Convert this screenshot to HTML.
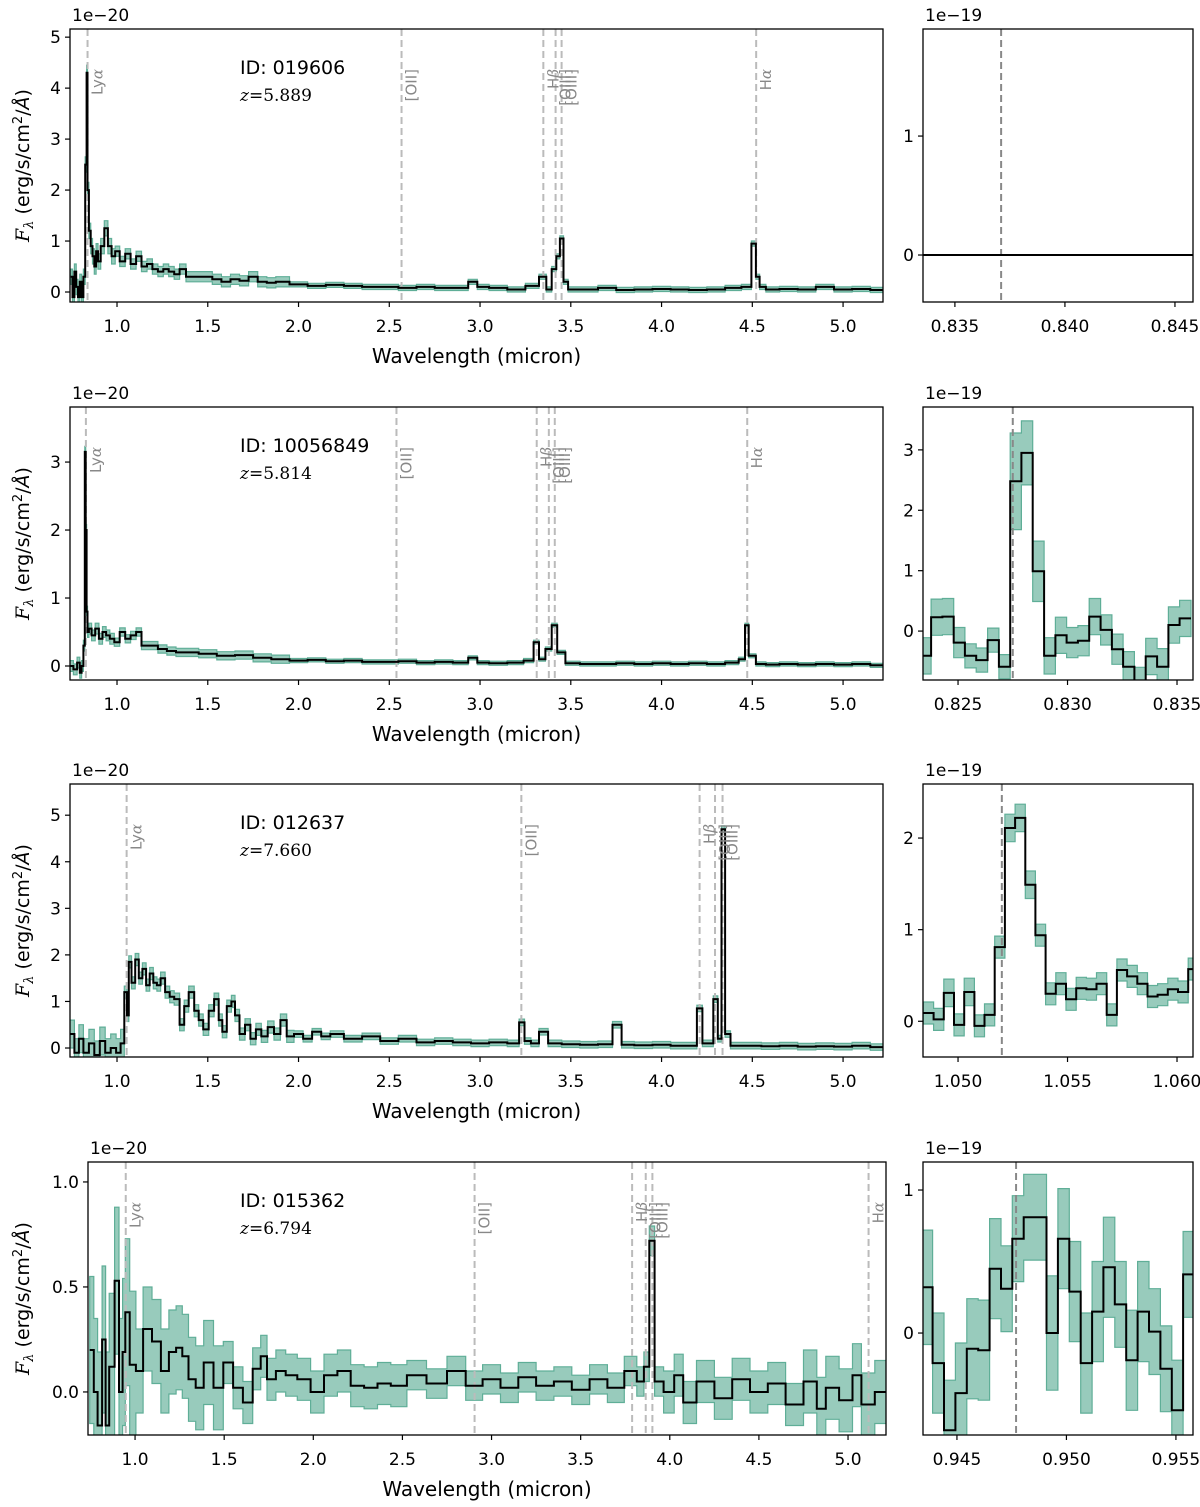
<!DOCTYPE html>
<html><head><meta charset="utf-8"><style>
body{margin:0;background:#fff;}
svg{display:block;font-family:"DejaVu Sans","Liberation Sans",sans-serif;}
</style></head><body>
<svg id="fig" width="1200" height="1507" viewBox="0 0 1200 1507" xmlns="http://www.w3.org/2000/svg"></svg>
<script>
// ---------- data (flux in units of 1e-20 for main, 1e-19 for zoom panels) ----------
const s1_wl=[0.75,0.76,0.77,0.78,0.79,0.80,0.81,0.82,0.83,0.835,0.84,0.85,0.86,0.87,0.88,0.89,0.90,0.92,0.94,0.96,0.98,1.00,1.03,1.06,1.09,1.12,1.15,1.18,1.21,1.24,1.27,1.30,1.33,1.36,1.40,1.45,1.50,1.55,1.60,1.65,1.70,1.75,1.80,1.85,1.90,2.0,2.1,2.2,2.3,2.4,2.5,2.6,2.7,2.8,2.9,2.97,3.0,3.1,3.2,3.3,3.35,3.38,3.41,3.43,3.45,3.47,3.5,3.6,3.7,3.8,3.9,4.0,4.1,4.2,4.3,4.4,4.48,4.51,4.53,4.55,4.6,4.7,4.8,4.9,5.0,5.1,5.2];
const s1_flux=[0.3,-0.1,0.4,0.1,-0.1,0.2,-0.1,0.3,2.5,4.3,2.0,1.2,0.9,0.7,0.5,0.8,0.6,0.9,1.25,0.9,0.7,0.8,0.6,0.75,0.55,0.7,0.5,0.55,0.45,0.4,0.45,0.4,0.35,0.45,0.3,0.3,0.3,0.25,0.2,0.25,0.22,0.3,0.2,0.18,0.2,0.15,0.12,0.14,0.12,0.1,0.1,0.08,0.1,0.08,0.08,0.2,0.1,0.08,0.05,0.12,0.3,0.05,0.45,0.7,1.05,0.2,0.05,0.05,0.08,0.04,0.05,0.06,0.05,0.04,0.05,0.08,0.1,0.95,0.3,0.1,0.05,0.06,0.05,0.1,0.05,0.06,0.04];
const s1_errEdges=[0.7,1.0,2.0];
const s1_errVals=[0.15,0.1,0.05];

const s2_wl=[0.75,0.77,0.79,0.80,0.81,0.82,0.825,0.83,0.835,0.84,0.85,0.87,0.89,0.91,0.93,0.95,0.97,1.00,1.03,1.06,1.09,1.12,1.15,1.20,1.25,1.30,1.35,1.40,1.50,1.60,1.70,1.80,1.90,2.0,2.1,2.2,2.3,2.4,2.5,2.6,2.7,2.8,2.9,2.97,3.0,3.1,3.2,3.28,3.31,3.34,3.38,3.41,3.44,3.5,3.6,3.7,3.8,3.9,4.0,4.1,4.2,4.3,4.4,4.45,4.47,4.49,4.55,4.6,4.7,4.8,4.9,5.0,5.1,5.2];
const s2_flux=[0.0,-0.05,0.05,-0.1,0.0,0.3,3.15,2.0,0.8,0.5,0.55,0.45,0.55,0.4,0.5,0.45,0.4,0.35,0.5,0.4,0.45,0.5,0.3,0.3,0.25,0.22,0.2,0.2,0.18,0.15,0.16,0.12,0.1,0.08,0.09,0.07,0.08,0.06,0.06,0.07,0.05,0.06,0.05,0.12,0.05,0.04,0.05,0.08,0.35,0.1,0.25,0.6,0.2,0.04,0.03,0.03,0.04,0.03,0.04,0.03,0.04,0.03,0.05,0.1,0.6,0.15,0.03,0.02,0.03,0.02,0.03,0.02,0.03,0.01];
const s2_errEdges=[0.7,1.0,2.0];
const s2_errVals=[0.08,0.06,0.03];

const s3_wl=[0.75,0.78,0.80,0.83,0.86,0.89,0.92,0.95,0.98,1.01,1.03,1.05,1.06,1.07,1.09,1.11,1.13,1.15,1.17,1.19,1.21,1.23,1.25,1.28,1.30,1.33,1.36,1.38,1.41,1.44,1.46,1.49,1.52,1.55,1.57,1.59,1.62,1.64,1.66,1.69,1.72,1.75,1.78,1.81,1.85,1.88,1.92,1.95,2.0,2.05,2.1,2.15,2.2,2.3,2.4,2.5,2.6,2.7,2.8,2.9,3.0,3.1,3.2,3.23,3.26,3.3,3.35,3.4,3.5,3.6,3.7,3.76,3.8,3.9,4.0,4.1,4.18,4.21,4.24,4.27,4.30,4.32,4.34,4.36,4.4,4.5,4.6,4.7,4.8,4.9,5.0,5.1,5.2];
const s3_flux=[0.3,-0.1,0.2,-0.1,0.1,-0.15,0.15,-0.1,0.0,-0.1,0.1,1.2,0.7,1.85,1.4,1.9,1.5,1.7,1.35,1.6,1.4,1.35,1.5,1.2,1.1,1.05,0.5,0.9,1.2,0.8,0.6,0.4,0.8,1.05,0.6,0.35,0.9,1.0,0.7,0.3,0.5,0.2,0.4,0.25,0.45,0.3,0.6,0.25,0.3,0.2,0.35,0.25,0.3,0.2,0.25,0.15,0.2,0.12,0.15,0.12,0.1,0.12,0.1,0.55,0.15,0.1,0.35,0.1,0.08,0.07,0.08,0.5,0.07,0.06,0.07,0.05,0.05,0.85,0.1,0.1,1.05,0.2,4.7,0.3,0.05,0.05,0.04,0.05,0.03,0.04,0.03,0.05,0.02];
const s3_errEdges=[0.7,1.05,2.0];
const s3_errVals=[0.3,0.13,0.07];

const s4_wl=[0.757,0.78,0.80,0.83,0.84,0.87,0.90,0.92,0.94,0.95,0.99,1.02,1.07,1.12,1.17,1.21,1.25,1.28,1.32,1.36,1.41,1.47,1.52,1.58,1.63,1.69,1.72,1.76,1.82,1.87,1.95,2.02,2.10,2.17,2.25,2.32,2.40,2.47,2.58,2.69,2.81,2.9,3.0,3.1,3.2,3.3,3.4,3.5,3.6,3.7,3.79,3.84,3.87,3.90,3.93,4.0,4.05,4.1,4.2,4.3,4.4,4.5,4.6,4.7,4.8,4.85,4.9,5.0,5.05,5.1,5.2];
const s4_flux=[0.2,0.0,-0.16,0.25,-0.16,0.12,0.53,0.0,0.19,0.38,0.13,0.1,0.3,0.24,0.1,0.19,0.21,0.17,0.06,0.02,0.14,0.02,0.14,0.02,-0.05,0.11,0.17,0.06,0.1,0.08,0.06,0.0,0.08,0.1,0.03,0.02,0.04,0.03,0.08,0.04,0.1,0.03,0.06,0.02,0.07,0.03,0.05,0.01,0.06,0.02,0.1,0.05,0.12,0.72,0.05,0.0,0.08,-0.05,0.05,-0.03,0.06,0.0,0.04,-0.06,0.05,-0.08,0.02,-0.04,0.08,-0.06,0.0];
const s4_errEdges=[0.7,1.0,1.5,2.5,4.0,4.8];
const s4_errVals=[0.35,0.2,0.1,0.07,0.1,0.15];

const z1_wl=[0.8335,0.8460];
const z1_flux=[0,0];
const z1_err=[0,0];

const z2_wl=[0.82351,0.82403,0.82454,0.82506,0.82557,0.82609,0.82661,0.82712,0.82764,0.82815,0.82867,0.82919,0.82970,0.83022,0.83073,0.83125,0.83177,0.83228,0.83280,0.83331,0.83383,0.83435,0.83486,0.83538];
const z2_flux=[-0.41,0.23,0.24,-0.19,-0.41,-0.48,-0.15,-0.59,2.48,2.95,0.99,-0.41,-0.07,-0.19,-0.16,0.24,0.02,-0.3,-0.59,-0.9,-0.42,-0.59,0.1,0.21];
const z2_err=[0.3,0.3,0.3,0.25,0.2,0.2,0.2,0.2,0.8,0.53,0.5,0.3,0.3,0.25,0.25,0.3,0.25,0.25,0.25,0.3,0.3,0.3,0.3,0.3];

const z3_wl=[1.04865,1.04912,1.04958,1.05005,1.05051,1.05098,1.05144,1.05191,1.05237,1.05284,1.05330,1.05377,1.05423,1.05470,1.05516,1.05563,1.05609,1.05656,1.05702,1.05749,1.05795,1.05842,1.05888,1.05935,1.05981,1.06028,1.06074];
const z3_flux=[0.09,0.02,0.31,-0.04,0.32,-0.05,0.07,0.81,2.11,2.22,1.49,0.94,0.30,0.41,0.24,0.36,0.35,0.41,0.07,0.56,0.49,0.41,0.27,0.29,0.35,0.32,0.57];
const z3_err=[0.12,0.12,0.15,0.12,0.15,0.12,0.12,0.12,0.15,0.15,0.15,0.12,0.12,0.12,0.12,0.12,0.12,0.12,0.12,0.12,0.12,0.12,0.12,0.12,0.12,0.12,0.12];

const z4_wl=[0.94363,0.94415,0.94467,0.94519,0.94571,0.94623,0.94675,0.94727,0.94779,0.94831,0.94883,0.94935,0.94987,0.95039,0.95091,0.95143,0.95195,0.95247,0.95299,0.95351,0.95403,0.95455,0.95507,0.95559,0.95611];
const z4_flux=[0.32,-0.21,-0.68,-0.42,-0.11,-0.12,0.45,0.31,0.66,0.81,0.81,0.0,0.66,0.29,-0.21,0.15,0.46,0.2,-0.19,0.15,0.01,-0.25,-0.54,0.41,0.2];
const z4_err=[0.4,0.35,0.35,0.35,0.35,0.35,0.35,0.3,0.3,0.3,0.3,0.4,0.35,0.35,0.35,0.35,0.35,0.3,0.35,0.35,0.3,0.3,0.35,0.3,0.3];

const redshifts=[5.889,5.814,7.660,6.794];
const objIds=["019606","10056849","012637","015362"];
const zoomLyaWl=[0.8371,0.8275,1.0520,0.9477];
const restLines=[0.1216,0.3727,0.4861,0.4959,0.5007,0.6563];
const lineNames=["Ly|α","[OII]","H|β","[OIII]","[OIII]","H|α"];
const mainXTicks=[1.0,1.5,2.0,2.5,3.0,3.5,4.0,4.5,5.0];

// ---------- drawing ----------
const NS="http://www.w3.org/2000/svg";
const svg=document.getElementById('fig');
let clipId=0;
function el(tag,attrs,parent){const e=document.createElementNS(NS,tag);for(const k in attrs)e.setAttribute(k,attrs[k]);(parent||svg).appendChild(e);return e;}
function errAt(edges,vals,w){let v=vals[0];for(let i=0;i<edges.length;i++){if(w>=edges[i])v=vals[i];}return v;}
function stepEdges(wl){const e=[];for(let i=0;i<wl.length;i++){const l=i==0?wl[0]-(wl[1]-wl[0])/2:(wl[i-1]+wl[i])/2;const r=i==wl.length-1?wl[i]+(wl[i]-wl[i-1])/2:(wl[i]+wl[i+1])/2;e.push([l,r]);}return e;}
function stepPath(sx,sy,wl,vals){const ed=stepEdges(wl);let d='';for(let i=0;i<wl.length;i++){d+=(i==0?'M':'L')+sx(ed[i][0]).toFixed(1)+','+sy(vals[i]).toFixed(1)+'L'+sx(ed[i][1]).toFixed(1)+','+sy(vals[i]).toFixed(1);}return d;}
function fmt(v,dec){return v.toFixed(dec).replace('-','−');}

function panel(p){
  const g=el('g',{});
  
  
  const sx=v=>p.L+(v-p.x0)/(p.x1-p.x0)*(p.R-p.L);
  const sy=v=>p.B-(v-p.y0)/(p.y1-p.y0)*(p.B-p.T);
  const cid='c'+(clipId++);
  const cp=el('clipPath',{id:cid},g);el('rect',{x:p.L,y:p.T,width:p.R-p.L,height:p.B-p.T},cp);
  const cg=el('g',{'clip-path':'url(#'+cid+')'},g);
  const lo=p.flux.map((f,i)=>f-p.err[i]);const hi=p.flux.map((f,i)=>f+p.err[i]);
  const up=stepPath(sx,sy,p.wl,hi);
  const ed=stepEdges(p.wl);let dn='';
  for(let i=p.wl.length-1;i>=0;i--){dn+='L'+sx(ed[i][1]).toFixed(1)+','+sy(lo[i]).toFixed(1)+'L'+sx(ed[i][0]).toFixed(1)+','+sy(lo[i]).toFixed(1);}
  const band=el('path',{d:up+dn+'Z',fill:'rgba(67,160,133,0.55)',stroke:'#5fae97','stroke-width':1.2},cg);
  
  
  (p.lines||[]).forEach((ln,i)=>{
    if(ln.w<p.x0||ln.w>p.x1)return;
    const x=sx(ln.w);
    const dl=el('line',{x1:x,x2:x,y1:p.T,y2:p.B,stroke:p.dashColor,'stroke-width':2,'stroke-dasharray':'7,4'},cg);
    
    
    if(ln.label){const t=el('text',{x:0,y:0,transform:'translate('+(x+15)+','+(p.T+40)+') rotate(-90)','text-anchor':'end','font-size':15,fill:'#888'},g);
      const parts=ln.label.split('|');
      t.textContent=parts[0];
      if(parts[1]){const ts=el('tspan',{'font-style':'italic','font-family':'DejaVu Serif, serif'},t);ts.textContent=parts[1];}
      
      }
  });
  const sp=el('path',{d:stepPath(sx,sy,p.wl,p.flux),fill:'none',stroke:'#000','stroke-width':2,'stroke-linejoin':'miter'},cg);
  
  
  const fr=el('rect',{x:p.L,y:p.T,width:p.R-p.L,height:p.B-p.T,fill:'none',stroke:'#000','stroke-width':1.3},g);
  
  
  p.xticks.forEach(v=>{const x=sx(v);el('line',{x1:x,x2:x,y1:p.B,y2:p.B+5,stroke:'#000','stroke-width':1.2},g);
    const t=el('text',{x:x,y:p.B+30,'text-anchor':'middle','font-size':17},g);t.textContent=fmt(v,p.xdec);
    
    });
  p.yticks.forEach(v=>{const y=sy(v);el('line',{x1:p.L-5,x2:p.L,y1:y,y2:y,stroke:'#000','stroke-width':1.2},g);
    const t=el('text',{x:p.L-9,y:y+6,'text-anchor':'end','font-size':17},g);t.textContent=fmt(v,p.ydec);
    
    });
  const off=el('text',{x:p.L+2,y:p.T-8,'font-size':17},g);off.textContent=p.offset;
  
  
  return {sx,sy,g};
}

const rows=[
 {T:29,B:302,L:70,R:883,x0:0.741,x1:5.22,y0:-0.196,y1:5.16,yt:[0,1,2,3,4,5],yd:0,wl:s1_wl,f:s1_flux,ee:s1_errEdges,ev:s1_errVals,
  zx0:0.83355,zx1:0.84582,zy0:-0.395,zy1:1.9,zyt:[0,1],zxt:[0.835,0.840,0.845],zwl:z1_wl,zf:z1_flux,ze:z1_err},
 {T:407,B:680,L:70,R:883,x0:0.741,x1:5.22,y0:-0.206,y1:3.81,yt:[0,1,2,3],yd:0,wl:s2_wl,f:s2_flux,ee:s2_errEdges,ev:s2_errVals,
  zx0:0.82340,zx1:0.83573,zy0:-0.81,zy1:3.71,zyt:[0,1,2,3],zxt:[0.825,0.830,0.835],zwl:z2_wl,zf:z2_flux,ze:z2_err},
 {T:784,B:1057,L:70,R:883,x0:0.741,x1:5.22,y0:-0.193,y1:5.67,yt:[0,1,2,3,4,5],yd:0,wl:s3_wl,f:s3_flux,ee:s3_errEdges,ev:s3_errVals,
  zx0:1.04840,zx1:1.06073,zy0:-0.39,zy1:2.59,zyt:[0,1,2],zxt:[1.050,1.055,1.060],zwl:z3_wl,zf:z3_flux,ze:z3_err},
 {T:1162,B:1435,L:88,R:886,x0:0.736,x1:5.213,y0:-0.205,y1:1.095,yt:[0,0.5,1.0],yd:1,wl:s4_wl,f:s4_flux,ee:s4_errEdges,ev:s4_errVals,
  zx0:0.94345,zx1:0.95578,zy0:-0.713,zy1:1.196,zyt:[0,1],zxt:[0.945,0.950,0.955],zwl:z4_wl,zf:z4_flux,ze:z4_err}
];

rows.forEach((r,k)=>{
  const z=redshifts[k];
  const lines=restLines.map((w,i)=>({w:w*(1+z),label:lineNames[i]}));
  const err=r.wl.map(w=>errAt(r.ee,r.ev,w));
  panel({name:'spectrum-panel-'+(k+1),L:r.L,R:r.R,T:r.T,B:r.B,x0:r.x0,x1:r.x1,y0:r.y0,y1:r.y1,wl:r.wl,flux:r.f,err:err,
    lines:lines,dashColor:'#bbbbbb',xticks:mainXTicks,xdec:1,yticks:r.yt,ydec:r.yd,offset:'1e−20'});
  panel({name:'lya-zoom-panel-'+(k+1),L:923,R:1193,T:r.T,B:r.B,x0:r.zx0,x1:r.zx1,y0:r.zy0,y1:r.zy1,wl:r.zwl,flux:r.zf,err:r.ze,
    lines:[{w:zoomLyaWl[k]}],dashColor:'#888888',xticks:r.zxt,xdec:3,yticks:r.zyt,ydec:0,offset:'1e−19'});
  const id=el('text',{x:240,y:r.T+45,'font-size':19});id.textContent='ID: '+objIds[k];
  
  
  const zt=el('text',{x:240,y:r.T+72,'font-size':17,'font-family':'"DejaVu Serif","Liberation Serif",serif'});
  zt.innerHTML='<tspan font-style="italic">z</tspan>='+z.toFixed(3);
  
  
  const xl=el('text',{x:(r.L+r.R)/2,y:r.B+61,'text-anchor':'middle','font-size':20});xl.textContent='Wavelength (micron)';
  
  
  const cy=(r.T+r.B)/2;
  const yl=el('text',{x:0,y:0,transform:'translate(29,'+cy+') rotate(-90)','text-anchor':'middle','font-size':19});
  yl.innerHTML='<tspan font-style="italic" font-family="DejaVu Serif, serif">F</tspan><tspan font-size="13" dy="4" font-style="italic" font-family="DejaVu Serif, serif">λ</tspan><tspan dy="-4"> (erg/s/cm</tspan><tspan font-size="13" dy="-7">2</tspan><tspan dy="7">/</tspan><tspan font-style="italic">Å</tspan><tspan>)</tspan>';
  
  
});
</script>
</body></html>
